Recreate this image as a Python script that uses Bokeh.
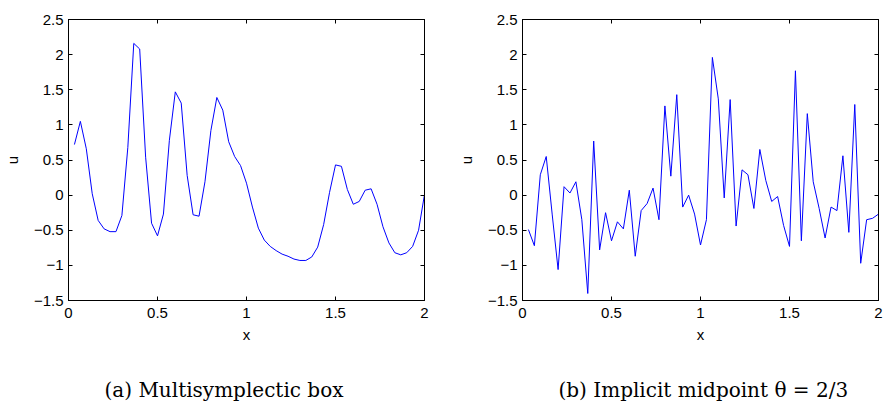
import numpy as np
from bokeh.plotting import figure
from bokeh.layouts import row
from bokeh.models import LinearAxis, FixedTicker, Title, Range1d
from bokeh.embed import file_html
from bokeh.resources import INLINE

# sample positions k/30, k = 1..60
x_vals = [k / 30 for k in range(1, 61)]

u_box = [0.72, 1.05, 0.66, 0.02, -0.36, -0.48, -0.52, -0.52, -0.29, 0.68,
         2.16, 2.08, 0.54, -0.40, -0.58, -0.27, 0.78, 1.47, 1.31, 0.28,
         -0.28, -0.30, 0.19, 0.92, 1.39, 1.21, 0.76, 0.55, 0.42, 0.17,
         -0.17, -0.47, -0.64, -0.73, -0.79, -0.84, -0.87, -0.91, -0.93, -0.93,
         -0.88, -0.74, -0.42, 0.04, 0.43, 0.41, 0.08, -0.13, -0.09, 0.07,
         0.09, -0.13, -0.45, -0.68, -0.82, -0.85, -0.82, -0.73, -0.50, 0.01]

u_mid = [-0.49, -0.72, 0.29, 0.55, -0.27, -1.06, 0.12, 0.03, 0.19, -0.35,
         -1.40, 0.77, -0.78, -0.25, -0.65, -0.38, -0.48, 0.07, -0.87, -0.22,
         -0.12, 0.10, -0.35, 1.27, 0.27, 1.43, -0.17, 0.00, -0.27, -0.71,
         -0.35, 1.96, 1.37, -0.04, 1.36, -0.44, 0.36, 0.29, -0.19, 0.65,
         0.21, -0.09, -0.02, -0.43, -0.73, 1.77, -0.65, 1.16, 0.19, -0.19,
         -0.61, -0.17, -0.22, 0.56, -0.53, 1.29, -0.97, -0.35, -0.33, -0.27]

x_ticks = [0, 0.5, 1, 1.5, 2]
x_tick_labels = ["0", "0.5", "1", "1.5", "2"]
y_ticks = [-1.5, -1, -0.5, 0, 0.5, 1, 1.5, 2, 2.5]
y_tick_labels = ["\u22121.5", "\u22121", "\u22120.5", "0", "0.5", "1", "1.5", "2", "2.5"]

captions = ["(a) Multisymplectic box", "(b) Implicit midpoint \u03b8 = 2/3"]

FONT = "Liberation Sans"
SERIF = "DejaVu Serif"


def make_panel(u, caption, width, border_right):
    p = figure(width=width, height=407, output_backend="svg", toolbar_location=None,
               x_range=Range1d(0, 2), y_range=Range1d(-1.5, 2.5),
               min_border_left=67, min_border_right=border_right,
               min_border_top=19, min_border_bottom=107,
               x_axis_label="x", y_axis_label="u")
    p.line(x_vals, u, line_color="#0000ff", line_width=1)
    p.grid.visible = False
    p.outline_line_color = "black"
    p.outline_line_width = 1
    p.background_fill_color = "white"
    p.border_fill_color = "white"

    for ax, ticks, labels in ((p.xaxis[0], x_ticks, x_tick_labels),
                              (p.yaxis[0], y_ticks, y_tick_labels)):
        ax.ticker = FixedTicker(ticks=ticks)
        ax.major_label_overrides = {t: l for t, l in zip(ticks, labels)}
        ax.major_tick_in = 4
        ax.major_tick_out = 0
        ax.minor_tick_line_color = None
        ax.axis_line_color = "black"
        ax.major_label_text_font = FONT
        ax.major_label_text_font_size = "15px"
        ax.major_label_text_color = "black"
        ax.axis_label_text_font = FONT
        ax.axis_label_text_font_size = "15px"
        ax.axis_label_text_font_style = "normal"
        ax.axis_label_text_color = "black"
    p.xaxis.major_label_standoff = 7
    p.xaxis.axis_label_standoff = 5
    p.yaxis.major_label_standoff = 5
    p.yaxis.axis_label_standoff = 10

    for loc, ticks in (("above", x_ticks), ("right", y_ticks)):
        ax = LinearAxis(ticker=FixedTicker(ticks=ticks))
        ax.major_label_overrides = {t: "" for t in ticks}
        ax.major_tick_in = 4
        ax.major_tick_out = 0
        ax.minor_tick_line_color = None
        ax.major_label_text_font_size = "1px"
        ax.major_label_standoff = 0
        ax.axis_line_color = "black"
        p.add_layout(ax, loc)

    # invisible spacer (white tick on white border) between the x axis and the caption
    spacer = LinearAxis(ticker=FixedTicker(ticks=[x_ticks[2]]), major_tick_out=28,
                        major_tick_in=0, axis_line_color=None,
                        major_tick_line_color="white", minor_tick_line_color=None,
                        major_label_standoff=0, major_label_text_font_size="1px",
                        major_label_overrides={x_ticks[2]: ""})
    p.add_layout(spacer, "below")

    t = Title(text=caption, align="left", offset=36, text_font=SERIF,
              text_font_size="20px", text_font_style="normal", text_color="black",
              standoff=4)
    p.add_layout(t, "below")
    return p


p1 = make_panel(u_box, captions[0], 454, 30)
p2 = make_panel(u_mid, captions[1], 429, 5)
layout = row(p1, p2)

open("out.html", "w").write(file_html(layout, INLINE))
